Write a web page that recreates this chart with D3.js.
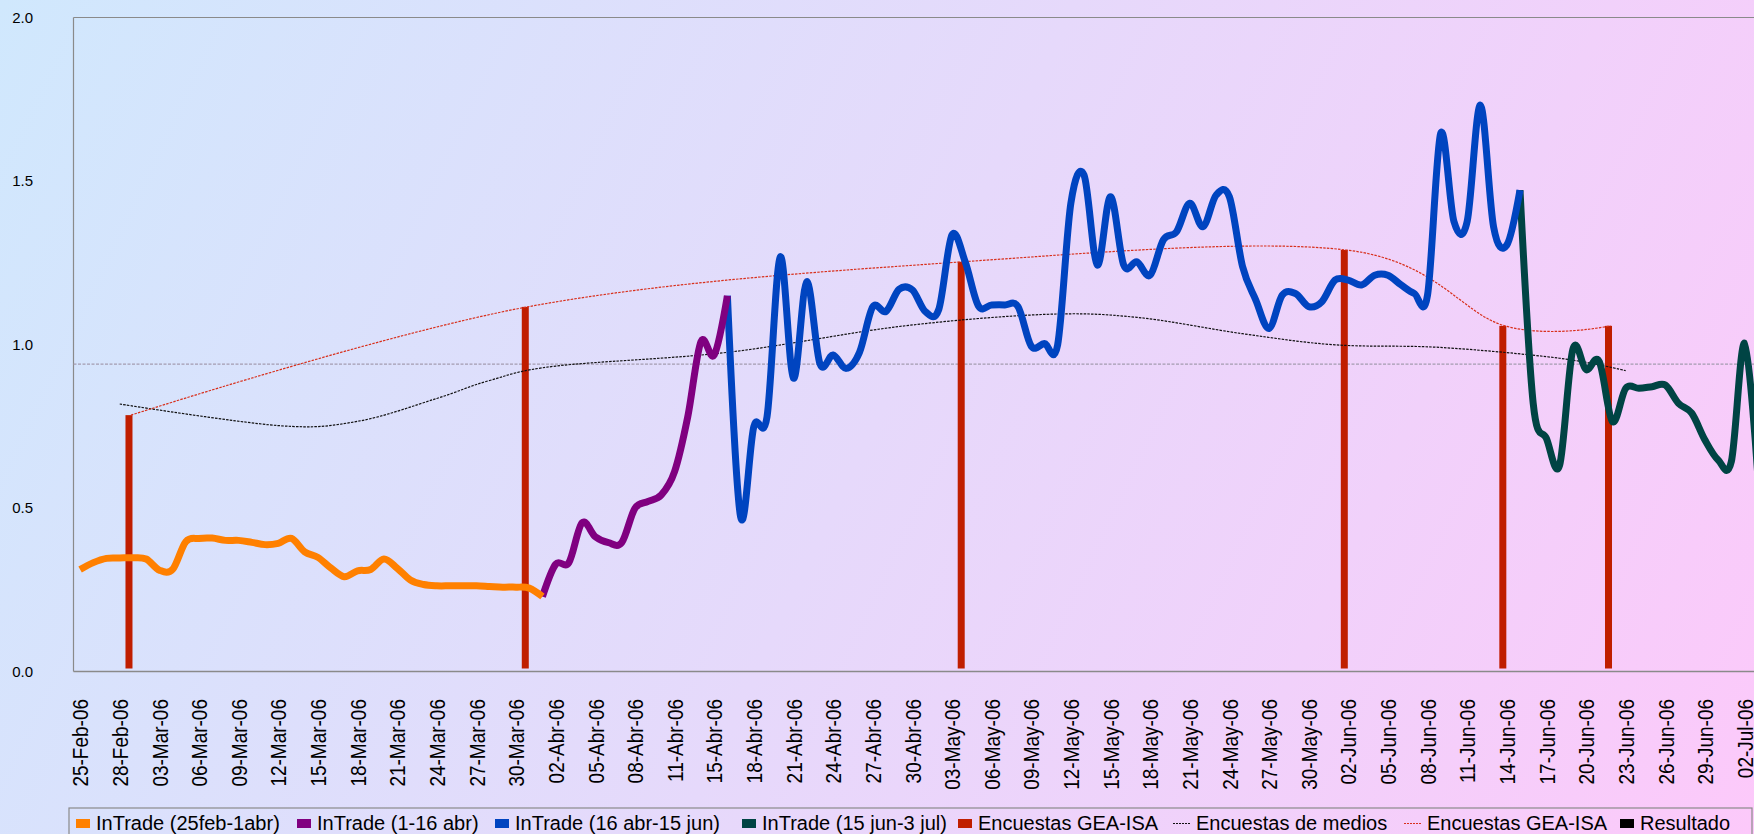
<!DOCTYPE html>
<html><head><meta charset="utf-8">
<script src="https://cdn.jsdelivr.net/npm/d3@7/dist/d3.min.js"></script>
<style>
html,body{margin:0;padding:0;overflow:hidden;background:#fff;}
svg text{font-family:"Liberation Sans",Arial,sans-serif;fill:#000;}
</style>
</head><body>
<svg id="chart" width="1754" height="834"></svg>
<script>
// ---------- DATA ----------
const monthNames = ["Ene","Feb","Mar","Abr","May","Jun","Jul"];
const firstDay = [2006, 1, 25];   // 25-Feb-06
const lastDay  = [2006, 6, 3];    // 03-Jul-06
const skippedDays = ["14-Abr-06"];

const tickLabels = ["25-Feb-06","28-Feb-06","03-Mar-06","06-Mar-06","09-Mar-06","12-Mar-06","15-Mar-06","18-Mar-06","21-Mar-06","24-Mar-06","27-Mar-06","30-Mar-06","02-Abr-06","05-Abr-06","08-Abr-06","11-Abr-06","15-Abr-06","18-Abr-06","21-Abr-06","24-Abr-06","27-Abr-06","30-Abr-06","03-May-06","06-May-06","09-May-06","12-May-06","15-May-06","18-May-06","21-May-06","24-May-06","27-May-06","30-May-06","02-Jun-06","05-Jun-06","08-Jun-06","11-Jun-06","14-Jun-06","17-Jun-06","20-Jun-06","23-Jun-06","26-Jun-06","29-Jun-06","02-Jul-06"];
const yTicks = [0, 0.5, 1.0, 1.5, 2.0];

// InTrade (25feb-1abr)
const intrade1Start = "25-Feb-06";
const intrade1 = [0.312,0.333,0.346,0.347,0.348,0.344,0.310,0.312,0.397,0.407,0.408,0.401,0.401,0.395,0.388,0.392,0.407,0.366,0.349,0.316,0.290,0.308,0.312,0.344,0.316,0.280,0.266,0.262,0.262,0.262,0.262,0.260,0.258,0.258,0.255,0.229];
// InTrade (1-16 abr)
const intrade2Start = "01-Abr-06";
const intrade2 = [0.229,0.328,0.333,0.455,0.412,0.394,0.394,0.499,0.520,0.540,0.611,0.779,1.009,0.968,1.149];
// InTrade (16 abr-15 jun)
const intrade3Start = "16-Abr-06";
const intrade3 = [1.149,0.473,0.749,0.779,1.268,0.897,1.192,0.942,0.968,0.927,0.976,1.115,1.101,1.169,1.167,1.100,1.107,1.335,1.253,1.118,1.121,1.121,1.116,0.995,1.003,0.999,1.432,1.518,1.243,1.452,1.243,1.253,1.212,1.320,1.345,1.432,1.360,1.457,1.452,1.238,1.136,1.049,1.151,1.156,1.116,1.131,1.197,1.197,1.182,1.212,1.212,1.182,1.156,1.151,1.646,1.376,1.376,1.732,1.360,1.304,1.472];
// InTrade (15 jun-3 jul)
const intrade4Start = "15-Jun-06";
const intrade4 = [1.472,0.820,0.713,0.631,0.985,0.923,0.948,0.764,0.866,0.866,0.871,0.876,0.820,0.790,0.708,0.647,0.642,1.004,0.600];

// Encuestas GEA-ISA (bars + smoothed dotted line)
const geaDates  = ["28-Feb-06","30-Mar-06","03-May-06","01-Jun-06","13-Jun-06","21-Jun-06"];
const geaValues = [0.784,1.115,1.253,1.289,1.057,1.057];

// Encuestas de medios (smoothed dotted line)
const mediosDates  = ["28-Feb-06","12-Mar-06","18-Mar-06","24-Mar-06","28-Mar-06","02-Abr-06","16-Abr-06","29-Abr-06","10-May-06","17-May-06","25-May-06","01-Jun-06","09-Jun-06","18-Jun-06","23-Jun-06"];
const mediosValues = [0.818,0.752,0.765,0.835,0.890,0.934,0.976,1.055,1.092,1.083,1.033,0.999,0.991,0.958,0.920];

// Resultado reference level
const resultadoLevel = 0.94;

const legendLabels = ["InTrade (25feb-1abr)","InTrade (1-16 abr)","InTrade (16 abr-15 jun)","InTrade (15 jun-3 jul)","Encuestas GEA-ISA","Encuestas de medios","Encuestas GEA-ISA","Resultado"];

// ---------- CATEGORIES ----------
const fmtDay = d => String(d.getDate()).padStart(2,"0") + "-" + monthNames[d.getMonth()] + "-" + String(d.getFullYear()).slice(2);
const categories = d3.timeDay.range(new Date(...firstDay), d3.timeDay.offset(new Date(...lastDay), 1))
  .map(fmtDay).filter(c => !skippedDays.includes(c));

// ---------- LAYOUT ----------
const W = 1754, H = 834;
const plot = {left: 73.5, top: 17.5, bottom: 671.5};
const step = 13.21;
const colors = {o:"#ff8000", p:"#800080", b:"#0044c0", g:"#004444", bar:"#c01e00", geaLine:"#d8301c", medios:"#111", ref:"#a49cb0", axis:"#8a8a8a"};

const svg = d3.select("#chart");
const defs = svg.append("defs");
const grad = defs.append("linearGradient").attr("id","bg").attr("gradientUnits","userSpaceOnUse")
  .attr("x1",0).attr("y1",0).attr("x2",W).attr("y2",H);
grad.append("stop").attr("offset",0).attr("stop-color","#d0e8fd");
grad.append("stop").attr("offset",0.5).attr("stop-color","#e6d9fb");
grad.append("stop").attr("offset",1).attr("stop-color","#fcc9fa");
svg.append("rect").attr("width",W).attr("height",H).attr("fill","url(#bg)");

const x = d3.scaleBand().domain(categories).range([plot.left, plot.left + step*categories.length]).padding(0);
const xc = c => x(c) + x.bandwidth()/2;
const y = d3.scaleLinear().domain([0,2]).range([plot.bottom, plot.top]);

// axes frame
const axisG = svg.append("g");
axisG.append("line").attr("x1",plot.left).attr("x2",W).attr("y1",plot.top).attr("y2",plot.top).attr("stroke",colors.axis).attr("stroke-width",1.2);
axisG.append("line").attr("x1",plot.left).attr("x2",plot.left).attr("y1",plot.top).attr("y2",plot.bottom).attr("stroke",colors.axis).attr("stroke-width",1.2);
axisG.append("line").attr("x1",plot.left).attr("x2",W).attr("y1",plot.bottom).attr("y2",plot.bottom).attr("stroke",colors.axis).attr("stroke-width",1.5);

// y labels
svg.append("g").selectAll("text").data(yTicks).join("text")
  .attr("x",33).attr("y",d=>y(d)).attr("dy","0.35em").attr("text-anchor","end")
  .style("font-size","15px").text(d3.format(".1f"));

// x labels
svg.append("g").selectAll("text").data(tickLabels).join("text")
  .attr("transform",d=>`translate(${xc(d)},699) scale(1.2,1) rotate(-90)`)
  .attr("dy","0.36em").attr("text-anchor","end").style("font-size","19px").text(d=>d);

// reference line
svg.append("line").attr("x1",plot.left).attr("x2",W).attr("y1",y(resultadoLevel)).attr("y2",y(resultadoLevel))
  .attr("stroke",colors.ref).attr("stroke-width",1.4).attr("stroke-dasharray","3,1.5");

// bars
const barOffset = 0.7*step, barW = 7;
svg.append("g").selectAll("rect").data(geaDates.map((d,i)=>({d, v:geaValues[i]}))).join("rect")
  .attr("x",d=>xc(d.d)+barOffset-barW/2).attr("width",barW)
  .attr("y",d=>y(d.v)).attr("height",d=>y(0)-3-y(d.v)).attr("fill",colors.bar);

// thin smoothed lines
const smooth = d3.line().curve(d3.curveCardinal.tension(0));
svg.append("path").attr("d",smooth(mediosDates.map((d,i)=>[xc(d), y(mediosValues[i])])))
  .attr("fill","none").attr("stroke",colors.medios).attr("stroke-width",1.2).attr("stroke-dasharray","2.5,1.2");
svg.append("path").attr("d",smooth(geaDates.map((d,i)=>[xc(d)+barOffset+2, y(geaValues[i])])))
  .attr("fill","none").attr("stroke",colors.geaLine).attr("stroke-width",1.2).attr("stroke-dasharray","2.5,1.2");

// InTrade series (earlier drawn on top)
function seriesPts(start, vals){ const i0 = categories.indexOf(start); return vals.map((v,i)=>[xc(categories[i0+i]), y(v)]); }
const thick = d3.line().curve(d3.curveCardinal.tension(0));
[[intrade4Start,intrade4,colors.g],[intrade3Start,intrade3,colors.b],[intrade2Start,intrade2,colors.p],[intrade1Start,intrade1,colors.o]]
 .forEach(([s,v,c])=>{
   svg.append("path").attr("d",thick(seriesPts(s,v))).attr("fill","none").attr("stroke",c)
     .attr("stroke-width",7).attr("stroke-linejoin","round").attr("stroke-linecap","butt");
 });

// legend
const lg = svg.append("g");
lg.append("rect").attr("x",69).attr("y",808).attr("width",1683).attr("height",40).attr("fill","none").attr("stroke",colors.axis).attr("stroke-width",1.2);
const legendX = [76,297,495,742,958,1173,1404,1620];
const legendKind = [["sq",colors.o],["sq",colors.p],["sq",colors.b],["sq",colors.g],["sq",colors.bar],["ln",colors.medios],["ln",colors.geaLine],["sq","#000"]];
legendLabels.forEach((t,i)=>{
  const [k,c] = legendKind[i], x0 = legendX[i];
  if(k==="sq") lg.append("rect").attr("x",x0).attr("y",819).attr("width",14).attr("height",9).attr("fill",c);
  else lg.append("line").attr("x1",x0).attr("x2",x0+17).attr("y1",823.5).attr("y2",823.5).attr("stroke",c).attr("stroke-width",1.2).attr("stroke-dasharray","2,1");
  lg.append("text").attr("x",x0+ (k==="sq"?20:23)).attr("y",829.5).style("font-size","20px").text(t);
});
</script>
</body></html>
